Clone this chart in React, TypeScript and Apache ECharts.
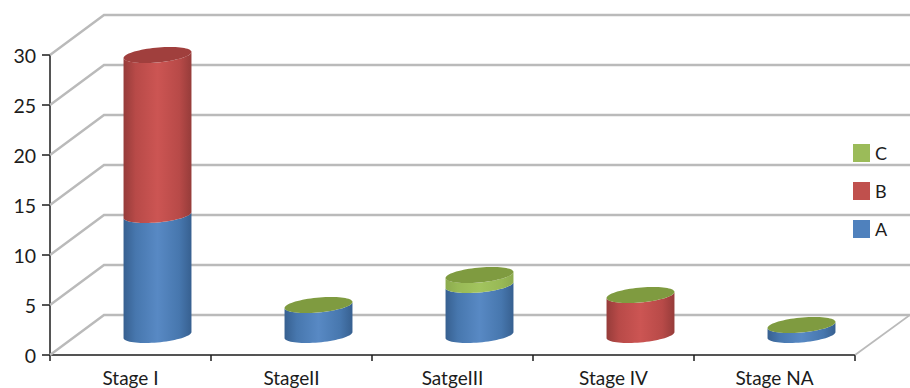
import React, { useEffect, useRef } from "react";
import * as echarts from "echarts";

const categories = ["Stage I", "StageII", "SatgeIII", "Stage IV", "Stage NA"];
const seriesA = [12, 3, 5, 0, 1];
const seriesB = [16, 0, 0, 4, 0];
const seriesC = [0, 0, 1, 0, 0];
const capOwner = ["B", "C", "C", "C", "C"];
const yTicks = [0, 5, 10, 15, 20, 25, 30];

// Oblique projection of the chart's depth axis, in pixels.
const DEPTH_X = 54;
const DEPTH_Y = -40;
// Shape of a cylinder's tilted elliptical cross-section.
const RX = 31.5;
const SKEW = 12.7;
const RY = 8;
const STEPS = 36;

const FONT = "Lato";
const INK = "#1c1c1c";

const palette: Record<string, { edge: string; soft: string; mid: string; flat: string; cap: string }> = {
  A: { edge: "#376090", soft: "#4777ae", mid: "#5889c4", flat: "#4f81bd", cap: "#4a78b0" },
  B: { edge: "#963c3a", soft: "#b84a48", mid: "#cc5553", flat: "#c0504d", cap: "#a03f3d" },
  C: { edge: "#8cab4e", soft: "#98b956", mid: "#a2c45e", flat: "#9bbb59", cap: "#7f9b40" },
};

function ellipsePoint(cx: number, cy: number, t: number): number[] {
  return [cx + RX * Math.cos(t) + SKEW * Math.sin(t), cy - RY * Math.sin(t)];
}

const T0 = Math.atan2(SKEW, RX);

// Front half of the ellipse, walked from the right silhouette point to the left one.
function frontArc(cx: number, cy: number): number[][] {
  const pts: number[][] = [];
  for (let i = 0; i <= STEPS; i++) pts.push(ellipsePoint(cx, cy, T0 - (Math.PI * i) / STEPS));
  return pts;
}

function fullEllipse(cx: number, cy: number): number[][] {
  const pts: number[][] = [];
  for (let i = 0; i < STEPS * 2; i++) pts.push(ellipsePoint(cx, cy, (Math.PI * i) / STEPS));
  return pts;
}

function sideGradient(name: string) {
  const c = palette[name];
  return new echarts.graphic.LinearGradient(0, 0, 1, 0, [
    { offset: 0, color: c.edge },
    { offset: 0.18, color: c.soft },
    { offset: 0.5, color: c.mid },
    { offset: 0.82, color: c.soft },
    { offset: 1, color: c.edge },
  ]);
}

function cylinderSeries(name: string, values: number[], below: number[]) {
  return {
    type: "custom",
    name,
    itemStyle: { color: palette[name].flat },
    data: values.map((v, i) => [i, below[i], below[i] + v]),
    renderItem: (_: unknown, api: any) => {
      const low = api.coord([api.value(0), api.value(1)]);
      const high = api.coord([api.value(0), api.value(2)]);
      if (api.value(2) === api.value(1)) return null;
      const cx = low[0] + DEPTH_X / 2;
      const bottom = frontArc(cx, low[1] + DEPTH_Y / 2);
      const top = frontArc(cx, high[1] + DEPTH_Y / 2).reverse();
      return {
        type: "polygon",
        shape: { points: [...bottom, ...top] },
        style: { fill: sideGradient(name) },
      };
    },
  };
}

const stackedAB = seriesA.map((v, i) => v + seriesB[i]);
const totals = stackedAB.map((v, i) => v + seriesC[i]);
const noBase = seriesA.map(() => 0);

const option = {
  animation: false,
  backgroundColor: "#ffffff",
  grid: { left: 50, right: 55, top: 55, bottom: 33 },
  legend: {
    data: ["C", "B", "A"],
    orient: "vertical",
    left: 853,
    top: 144,
    itemWidth: 17,
    itemHeight: 18,
    itemGap: 20,
    padding: 0,
    selectedMode: false,
    icon: "rect",
    textStyle: { fontFamily: FONT, fontSize: 18, color: INK, padding: [0, 0, 0, 0] },
  },
  xAxis: {
    type: "category",
    data: categories,
    axisLine: { lineStyle: { color: INK, width: 1.5 } },
    axisTick: { show: true, alignWithLabel: false, length: 6, lineStyle: { color: INK, width: 1.5 } },
    axisLabel: { fontFamily: FONT, fontSize: 19, color: INK, margin: 13 },
  },
  yAxis: {
    type: "value",
    min: 0,
    max: 30,
    interval: 5,
    splitLine: { show: false },
    axisLine: { show: true, lineStyle: { color: INK, width: 1.5 } },
    axisTick: { show: true, length: 8, lineStyle: { color: INK, width: 1.5 } },
    axisLabel: { fontFamily: FONT, fontSize: 19.5, color: INK, margin: 14 },
  },
  series: [
    // Side-wall and back-wall gridlines.
    {
      type: "custom",
      name: "walls",
      silent: true,
      data: yTicks.map((t) => [0, t]),
      renderItem: (params: any, api: any) => {
        const left = params.coordSys.x;
        const y = api.coord([0, api.value(1)])[1];
        return {
          type: "polyline",
          shape: {
            points: [
              [left, y],
              [left + DEPTH_X, y + DEPTH_Y],
              [left + params.coordSys.width + DEPTH_X + 1, y + DEPTH_Y],
            ],
          },
          style: { stroke: "#bababa", lineWidth: 2.4, fill: "none" },
        };
      },
    },
    // Right-hand floor edge.
    {
      type: "custom",
      name: "floor",
      silent: true,
      data: [[0, 0]],
      renderItem: (params: any, api: any) => {
        const right = params.coordSys.x + params.coordSys.width;
        const y = api.coord([0, api.value(1)])[1];
        return {
          type: "line",
          shape: { x1: right, y1: y, x2: right + DEPTH_X + 1, y2: y + DEPTH_Y },
          style: { stroke: "#bababa", lineWidth: 1.8 },
        };
      },
    },
    cylinderSeries("A", seriesA, noBase),
    cylinderSeries("B", seriesB, seriesA),
    cylinderSeries("C", seriesC, stackedAB),
    // Top faces of the cylinders.
    {
      type: "custom",
      name: "caps",
      silent: true,
      data: totals.map((v, i) => [i, v]),
      renderItem: (params: any, api: any) => {
        const top = api.coord([api.value(0), api.value(1)]);
        return {
          type: "polygon",
          shape: { points: fullEllipse(top[0] + DEPTH_X / 2, top[1] + DEPTH_Y / 2) },
          style: { fill: palette[capOwner[params.dataIndex]].cap },
        };
      },
    },
  ],
};

export default function App() {
  const ref = useRef<HTMLDivElement>(null);
  useEffect(() => {
    const chart = echarts.init(ref.current!, undefined, { renderer: "svg" });
    chart.setOption(option as any);
    return () => chart.dispose();
  }, []);
  return <div ref={ref} style={{ position: "fixed", left: 0, top: 0, width: 910, height: 388 }} />;
}
